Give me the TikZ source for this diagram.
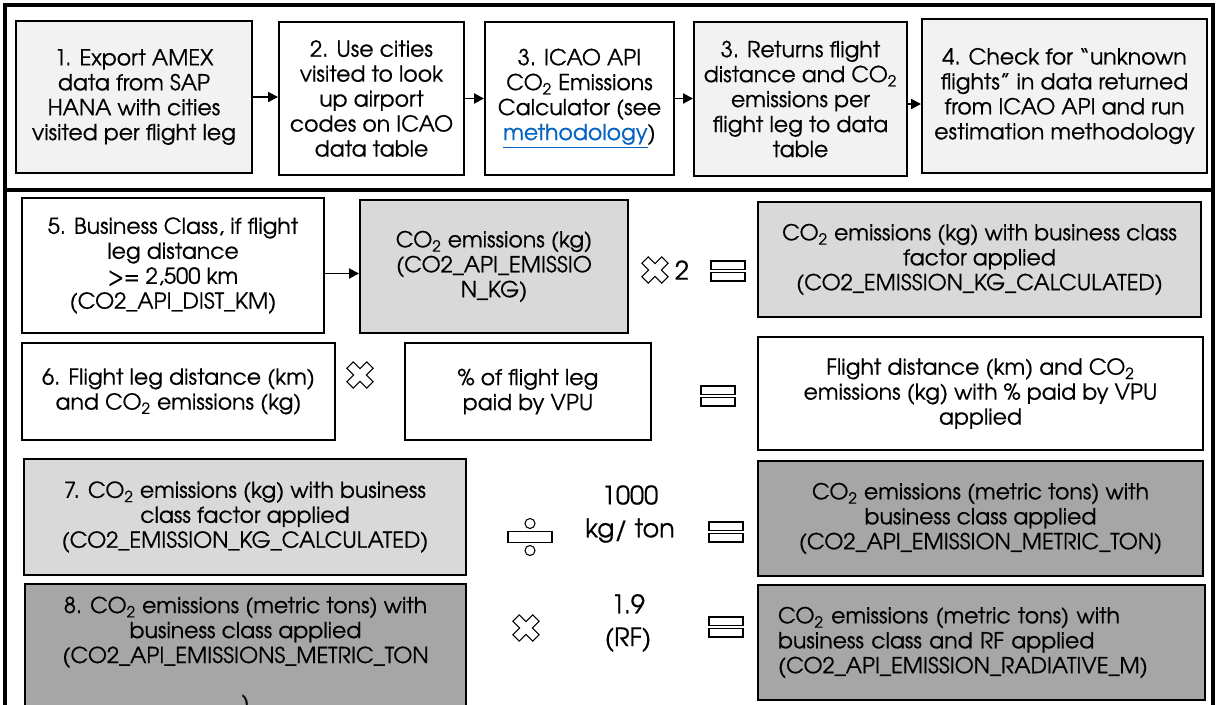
\documentclass[tikz,border=0pt]{standalone}
\usepackage{fontspec}
\setmainfont{texgyreadventor}[Extension=.otf,UprightFont=*-regular,BoldFont=*-bold,FakeBold=0.5]
\usetikzlibrary{arrows.meta}
\definecolor{lightfill}{HTML}{F2F2F2}
\definecolor{midfill}{HTML}{D9D9D9}
\definecolor{darkfill}{HTML}{A6A6A6}
\definecolor{linkblue}{HTML}{0563C1}
\newcommand{\cotwo}{CO\textsubscript{2}}
\def\u{0.02cm}

\begin{document}
\begin{tikzpicture}[
  x=0.02cm,y=-0.02cm,
  frame/.style={line width=2.4pt},
  box/.style={draw,line width=1.1pt,align=center,inner sep=2pt,
    font=\fontsize{12.5}{14.2}\selectfont},
  boxsize/.style 2 args={minimum width=#1*\u,minimum height=#2*\u},
  flow/.style={-{Triangle[length=0.2cm,width=0.2cm]},line width=1.1pt},
  op/.style={line width=0.6pt},
  num/.style={align=center,font=\fontsize{14.5}{18.7}\selectfont},
  timesop/.pic={
    \draw[op,rotate=45] (4.5,14) -- (4.5,4.5) -- (14,4.5) -- (14,-4.5) -- (4.5,-4.5)
      -- (4.5,-14) -- (-4.5,-14) -- (-4.5,-4.5) -- (-14,-4.5) -- (-14,4.5)
      -- (-4.5,4.5) -- (-4.5,14) -- cycle;
  },
  equalsop/.pic={
    \draw[op] (-17,-10) rectangle (17,-1.5);
    \draw[op] (-17,1.5) rectangle (17,10);
  },
  divideop/.pic={
    \draw[op] (-22,-5.5) rectangle (22,5.5);
    \draw[op] (0,-13.5) circle [radius=5*\u];
    \draw[op] (0,13.5) circle [radius=5*\u];
  }
]
  \clip (0,0) rectangle (1217,704);

  % outer panels
  \draw[frame] (5,5) rectangle (1213,190);
  \draw[frame] (5,190) rectangle (1213,760);

  % top row: data pipeline
  \node[box,fill=lightfill,boxsize={236}{152}] (export) at (134,97)
    {1. Export AMEX\\data from SAP\\HANA with cities\\visited per flight leg};
  \node[box,boxsize={185}{153}] (lookup) at (371.5,98.5)
    {2. Use cities\\visited to look\\up airport\\codes on ICAO\\data table};
  \node[box,boxsize={189}{153}] (icao) at (579.5,98.5)
    {3. ICAO API\\\cotwo{} Emissions\\Calculator (see\\\textcolor{linkblue}{\underline{methodology}})};
  \node[box,fill=lightfill,boxsize={213}{154}] (returns) at (800.5,99)
    {3. Returns flight\\distance and \cotwo\\emissions per\\flight leg to data\\table};
  \node[box,fill=lightfill,boxsize={285}{154}] (unknown) at (1064.5,96)
    {4. Check for “unknown\\flights” in data returned\\from ICAO API and run\\estimation methodology};

  \draw[flow] (export.east) -- (export.east -| lookup.west);
  \draw[flow] (lookup.east) -- (lookup.east -| icao.west);
  \draw[flow] (icao.east) -- (icao.east -| returns.west);
  \draw[flow] ([yshift=-0.1cm]returns.east) -- ([yshift=-0.1cm]returns.east -| unknown.west);

  % step 5
  \node[box,boxsize={302}{135}] (business) at (173,265.5)
    {5. Business Class, if flight\\leg distance\\>= 2,500 km\\(CO2\_API\_DIST\_KM)};
  \node[box,fill=midfill,boxsize={268}{133}] (kgapi) at (494,266.5)
    {\cotwo{} emissions (kg)\\(CO2\_API\_EMISSIO\\N\_KG)};
  \node[box,fill=midfill,boxsize={443}{115}] (kgcalc) at (979.5,259.5)
    {\cotwo{} emissions (kg) with business class\\factor applied\\(CO2\_EMISSION\_KG\_CALCULATED)};
  \draw[flow] ([yshift=-0.16cm]business.east) -- ([yshift=-0.16cm]business.east -| kgapi.west);
  \pic at (655,270) {timesop};
  \node[num] (two) at (682,270) {2};
  \pic at (728,271) {equalsop};

  % step 6
  \node[box,boxsize={313}{97}] (legdist) at (178.5,391.5)
    {6. Flight leg distance (km)\\and \cotwo{} emissions (kg)};
  \pic at (360,375) {timesop};
  \node[box,boxsize={246}{97}] (paidvpu) at (528,391.5)
    {\% of flight leg\\paid by VPU};
  \pic at (718,396) {equalsop};
  \node[box,boxsize={445}{113}] (vpuapplied) at (980.5,393.5)
    {Flight distance (km) and \cotwo\\emissions (kg) with \% paid by VPU\\applied};

  % step 7
  \node[box,fill=midfill,boxsize={442}{116}] (kgfactor) at (245,517)
    {7. \cotwo{} emissions (kg) with business\\class factor applied\\(CO2\_EMISSION\_KG\_CALCULATED)};
  \pic at (530,537) {divideop};
  \node[num] (perton) at (630,514) {1000\\kg/ ton};
  \pic at (726,532) {equalsop};
  \node[box,fill=darkfill,boxsize={445}{115}] (metricton) at (980.5,518.5)
    {\cotwo{} emissions (metric tons) with\\business class applied\\(CO2\_API\_EMISSION\_METRIC\_TON)};

  % step 8 (runs past the lower edge)
  \node[box,fill=darkfill,boxsize={441}{144}] (tonsin) at (245.5,656)
    {8. \cotwo{} emissions (metric tons) with\\business class applied\\(CO2\_API\_EMISSIONS\_METRIC\_TON\\[0.45cm])};
  \pic at (526,628) {timesop};
  \node[num] (rf) at (628,623) {1.9\\(RF)};
  \pic at (726,627) {equalsop};
  \node[box,fill=darkfill,align=left,text width=407*\u,inner xsep=20*\u,minimum height=115*\u] (radiative) at (981.5,642.5)
    {\cotwo{} emissions (metric tons) with\\business class and RF applied\\(CO2\_API\_EMISSION\_RADIATIVE\_M)};
\end{tikzpicture}
\end{document}
